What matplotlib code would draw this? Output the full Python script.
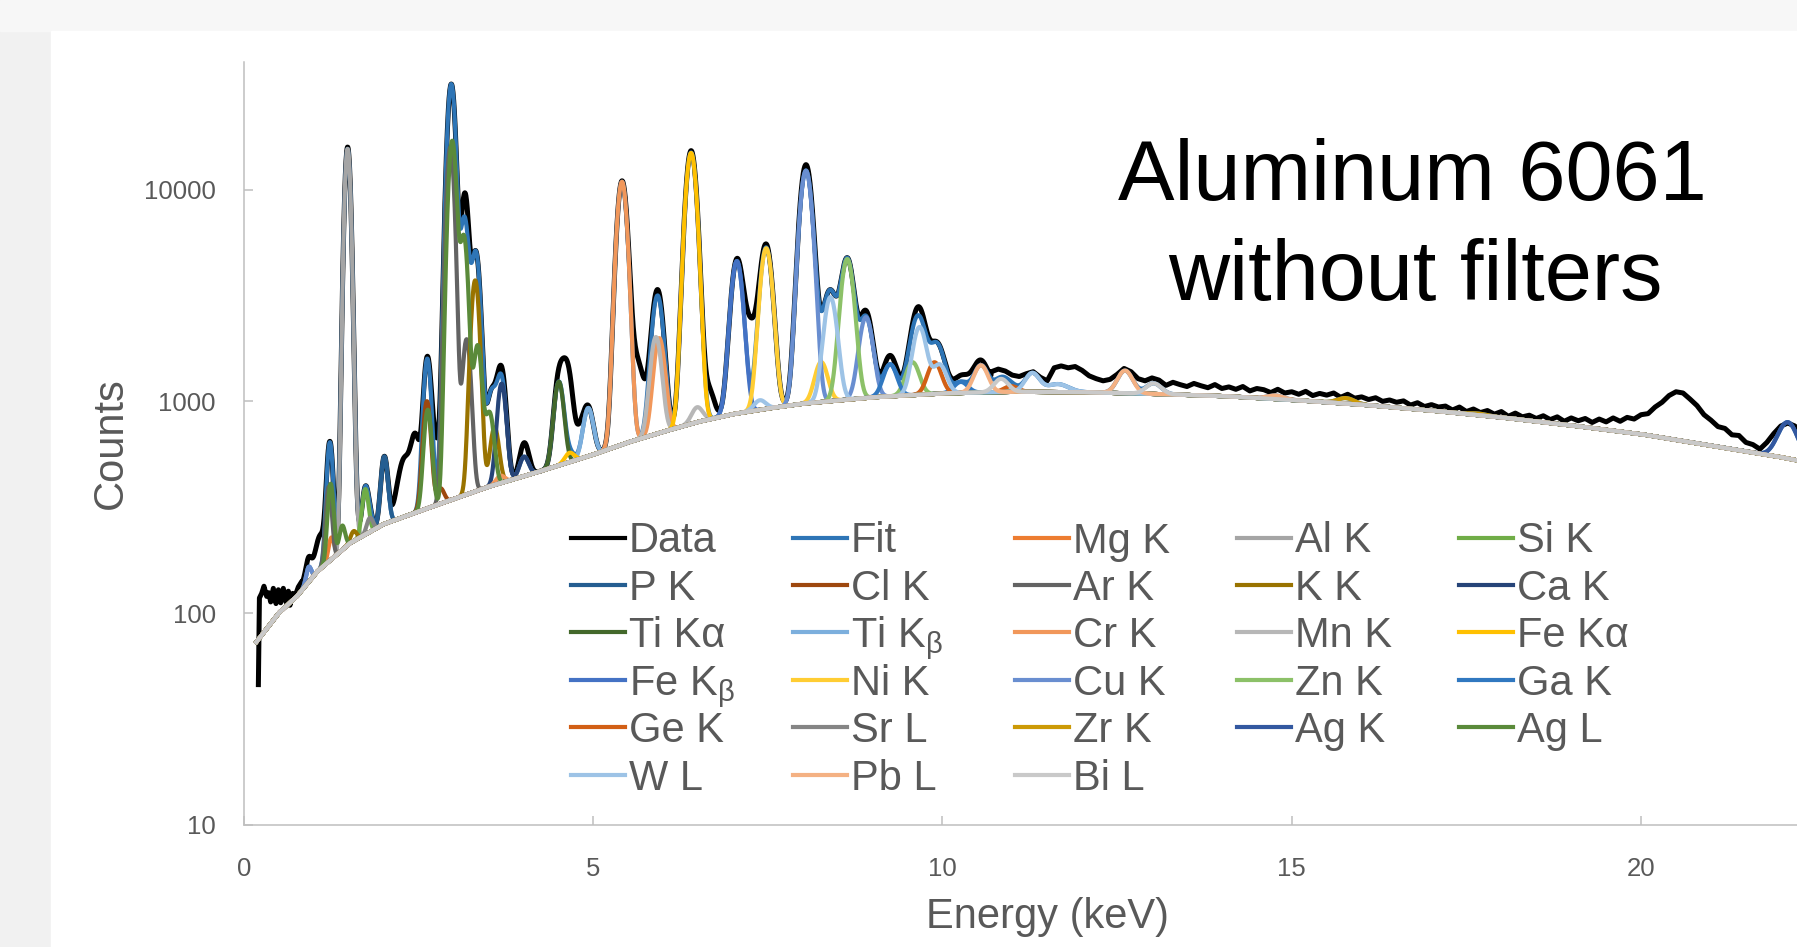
import numpy as np
import matplotlib
matplotlib.use('Agg')
import matplotlib.pyplot as plt
from matplotlib.patches import Rectangle
from matplotlib.lines import Line2D
from matplotlib.ticker import FuncFormatter, NullLocator

plt.rcParams['font.family'] = ['Liberation Sans', 'DejaVu Sans']
plt.rcParams['mathtext.fontset'] = 'custom'
plt.rcParams['mathtext.rm'] = 'Liberation Sans'
plt.rcParams['mathtext.it'] = 'Liberation Sans'
plt.rcParams['mathtext.default'] = 'regular'

# --- background (bremsstrahlung): keV, counts
bg_energy = [0.18, 0.5, 0.76, 1.05, 1.52, 2.0, 2.5, 3.0, 3.5, 4.0, 4.5, 5.0, 5.5, 6.0, 6.5,
             7.0, 7.5, 8.0, 9.0, 10.0, 11.0, 12.0, 13.0, 14.0, 15.0, 16.0, 17.0, 18.0,
             19.0, 20.0, 21.0, 22.0, 23.0]
bg_counts = [73, 100, 120, 157, 214, 263, 302, 345, 395, 442, 497, 560, 640, 718, 800,
             870, 925, 975, 1045, 1090, 1110, 1105, 1085, 1060, 1016, 965, 905, 840,
             770, 700, 618, 545, 470]

# --- fitted lines per series: (centre keV, height above background, sigma keV)
mg_k = [(1.254, 48, 0.039)]
al_k = [(1.487, 15300, 0.041), (1.557, 250, 0.042)]
si_k = [(1.740, 150, 0.043)]
p_k = [(2.013, 285, 0.046)]
cl_k = [(2.622, 690, 0.051), (2.815, 60, 0.052)]
ar_k = [(1.217, 220, 0.039), (2.957, 15500, 0.054), (3.190, 1600, 0.056)]
k_k = [(1.573, 25, 0.042), (3.313, 3350, 0.057), (3.590, 350, 0.059)]
ca_k = [(3.691, 800, 0.059), (4.012, 105, 0.062)]
ti_ka = [(4.510, 740, 0.065)]
ti_kb = [(4.931, 380, 0.068)]
cr_k = [(3.674, 35, 0.059), (5.414, 10260, 0.071), (5.947, 1280, 0.074)]
mn_k = [(5.899, 1310, 0.074), (6.490, 140, 0.078)]
fe_ka = [(4.663, 55, 0.066), (6.403, 14100, 0.077)]
fe_kb = [(7.058, 3720, 0.081)]
ni_k = [(7.478, 4360, 0.083), (8.265, 540, 0.087)]
cu_k = [(0.930, 25, 0.035), (8.047, 11300, 0.086), (8.905, 1460, 0.090)]
zn_k = [(8.638, 3680, 0.089), (9.572, 460, 0.093)]
ga_k = [(9.251, 440, 0.092), (10.264, 140, 0.096)]
ge_k = [(9.886, 445, 0.094), (10.982, 70, 0.098)]
sr_l = [(1.806, 40, 0.043)]
zr_k = [(15.775, 60, 0.118), (17.668, 15, 0.125)]
ag_k = [(22.10, 260, 0.135)]
ag_l = [(1.244, 230, 0.039), (1.410, 60, 0.040), (2.634, 600, 0.051), (2.984, 16600, 0.054),
        (3.151, 5600, 0.055), (3.348, 1450, 0.057), (3.520, 480, 0.058)]
w_l = [(7.387, 100, 0.082), (8.397, 2100, 0.088), (9.672, 1165, 0.093), (9.961, 400, 0.095),
       (11.286, 250, 0.100), (11.65, 100, 0.150)]
pb_l = [(10.551, 380, 0.097), (12.614, 305, 0.105), (14.764, 40, 0.113)]
bi_l = [(10.839, 170, 0.098), (13.024, 132, 0.107)]

element_lines = [mg_k, al_k, si_k, p_k, cl_k, ar_k, k_k, ca_k, ti_ka, ti_kb, cr_k, mn_k,
                 fe_ka, fe_kb, ni_k, cu_k, zn_k, ga_k, ge_k, sr_l, zr_k, ag_k, ag_l,
                 w_l, pb_l, bi_l]

# measured data where it sits above the fit (centre, excess, sigma)
data_excess = [(0.95, 18, 0.10), (1.10, 65, 0.06), (1.49, 300, 0.041), (2.30, 250, 0.09),
               (2.46, 350, 0.06), (2.75, 250, 0.06), (3.175, 2300, 0.04), (3.69, 130, 0.06),
               (4.02, 90, 0.06), (4.63, 850, 0.07), (4.82, 150, 0.06), (5.62, 900, 0.10),
               (5.92, 200, 0.07), (6.40, 300, 0.077), (6.66, 300, 0.07), (7.25, 1250, 0.09),
               (7.46, 150, 0.08), (8.05, 800, 0.086), (8.90, 150, 0.09), (9.25, 150, 0.09),
               (9.67, 250, 0.09), (10.4, 110, 0.20)]

# noisy parts of the measured data read point by point
low_energy = [0.21, 0.225, 0.257, 0.29, 0.329, 0.357, 0.386, 0.424, 0.462, 0.496, 0.529,
              0.567, 0.605, 0.639, 0.663, 0.701, 0.734, 0.782, 0.83]
low_counts = [46, 118, 124, 134, 120, 125, 113, 131, 111, 129, 112, 131, 113, 127, 109,
              124, 120, 133, 141]

# from 10.7 keV in 0.1 keV steps
tail_counts = [1380, 1420, 1390, 1330, 1310, 1350, 1380, 1300, 1250, 1440, 1470, 1440, 1460,
               1400, 1320, 1280, 1250, 1270, 1340, 1430, 1380, 1280, 1250, 1290, 1260,
               1190, 1230, 1200, 1175, 1215, 1185, 1160, 1200, 1150, 1170, 1140, 1175, 1120,
               1150, 1135, 1100, 1140, 1095, 1110, 1080, 1115, 1065, 1090, 1070, 1095, 1045,
               1080, 1035, 1050, 1020, 1040, 1000, 1015, 990, 1005, 960, 985, 945, 965, 940,
               950, 910, 940, 895, 920, 885, 905, 870, 895, 850, 880, 845, 860, 830, 855,
               820, 845, 805, 835, 810, 830, 795, 825, 800, 835, 805, 840, 825, 865, 875,
               940, 990, 1065, 1110, 1095, 1025, 955, 865, 815, 760, 745, 695, 690, 640,
               625, 595, 640, 705, 765, 790, 765, 700]
tail_energy = np.round(10.7 + 0.1 * np.arange(len(tail_counts)), 1)

series_names = ['Data', 'Fit', 'Mg K', 'Al K', 'Si K', 'P K', 'Cl K', 'Ar K', 'K K', 'Ca K',
                'Ti Kα', r'Ti K$_\beta$', 'Cr K', 'Mn K', 'Fe Kα', r'Fe K$_\beta$', 'Ni K',
                'Cu K', 'Zn K', 'Ga K', 'Ge K', 'Sr L', 'Zr K', 'Ag K', 'Ag L', 'W L',
                'Pb L', 'Bi L']
series_colors = ['#000000', '#2E75B6', '#ED7D31', '#A5A5A5', '#70AD47', '#255E91', '#9E480E',
                 '#636363', '#997300', '#264478', '#43682B', '#7CAFDD', '#F1975A', '#B7B7B7',
                 '#FFC000', '#4472C4', '#FFCD33', '#698ED0', '#8CC168', '#3078C0', '#D25F15',
                 '#858585', '#CC9A06', '#3358A0', '#5A8A3A', '#9DC3E6', '#F4B183', '#C9C9C9']

x_ticks = [0, 5, 10, 15, 20]
y_ticks = [10, 100, 1000, 10000]


E = np.arange(0.18, 23.0, 0.005)
bg = 10 ** np.interp(E, bg_energy, np.log10(bg_counts))


def peak_sum(lines):
    total = np.zeros_like(E)
    for centre, height, sigma in lines:
        total += height * np.exp(-0.5 * ((E - centre) / sigma) ** 2)
    return total


element_curves = [bg + peak_sum(lines) for lines in element_lines]
fit = bg + sum(peak_sum(lines) for lines in element_lines)

mid = (E >= 0.845) & (E < 10.7)
data_mid = (fit + peak_sum(data_excess))[mid]
data_x = np.concatenate([low_energy, E[mid], tail_energy])
data_y = np.concatenate([low_counts, data_mid, tail_counts])

W, H = 1797, 947
fig = plt.figure(figsize=(W / 100, H / 100), dpi=100, facecolor='#f1f1f1')
fig.patches.append(Rectangle((0, 1 - 31 / H), 1, 31 / H, transform=fig.transFigure,
                             color='#f7f7f7', zorder=-2))
fig.patches.append(Rectangle((51 / W, 0), 1, 1 - 31 / H, transform=fig.transFigure,
                             color='white', zorder=-1))

# axes runs past the right edge of the picture (the slide is cropped)
ax_left, ax_bottom = 243.7 / W, 1 - 825 / H
ax = fig.add_axes([ax_left, ax_bottom, 23 * 69.87 / W, (825 - 62) / H])
ax.set_facecolor('none')

ax.plot(data_x, data_y, color=series_colors[0], lw=3.6, solid_joinstyle='round')
ax.plot(E, fit, color=series_colors[1], lw=3.0)
for curve, colour in zip(element_curves, series_colors[2:]):
    ax.plot(E, curve, color=colour, lw=3.0)

ax.set_yscale('log')
ax.set_xlim(0, 23)
ax.set_ylim(10, 40000)
ax.set_xticks(x_ticks)
ax.set_yticks(y_ticks)
ax.yaxis.set_minor_locator(NullLocator())
ax.xaxis.set_minor_locator(NullLocator())
ax.yaxis.set_major_formatter(FuncFormatter(lambda v, p: f'{v:g}'))

for side in ['top', 'right']:
    ax.spines[side].set_visible(False)
for side in ['left', 'bottom']:
    ax.spines[side].set_color('#bfbfbf')
    ax.spines[side].set_linewidth(1.1)
ax.tick_params(axis='both', direction='in', length=6.5, width=1.1, color='#bfbfbf',
               labelcolor='#595959', labelsize=18.5)
ax.tick_params(axis='x', pad=23)
ax.tick_params(axis='y', pad=20)

ax.set_ylabel('Counts', fontsize=30, color='#595959')
ax.yaxis.set_label_coords((111 - 243.7) / (23 * 69.87), 0.5)
ax.yaxis.label.set_va('center')
ax.set_xlabel('Energy (keV)', fontsize=30, color='#595959')
ax.xaxis.set_label_coords(0.5, -(917 - 825) / (825 - 62))
ax.xaxis.label.set_va('center')

# Excel-style legend: fixed grid, filled row by row
for i, (name, colour) in enumerate(zip(series_names, series_colors)):
    row, col = divmod(i, 5)
    x0 = 571 + col * 222
    yc = 537.5 + row * 47.4
    fig.add_artist(Line2D([x0 / W, (x0 + 54) / W], [1 - yc / H, 1 - yc / H],
                          color=colour, lw=3.0, transform=fig.transFigure))
    fig.text((x0 + 58) / W, 1 - (yc + 15) / H, name, fontsize=30, color='#595959',
             va='baseline', ha='left')

fig.text(1412 / W, 1 - 200 / H, 'Aluminum 6061', fontsize=61, ha='center',
         va='baseline', color='black')
fig.text(1415 / W, 1 - 300 / H, 'without filters', fontsize=61, ha='center',
         va='baseline', color='black')

fig.savefig('out.png', dpi=100, facecolor=fig.get_facecolor())
